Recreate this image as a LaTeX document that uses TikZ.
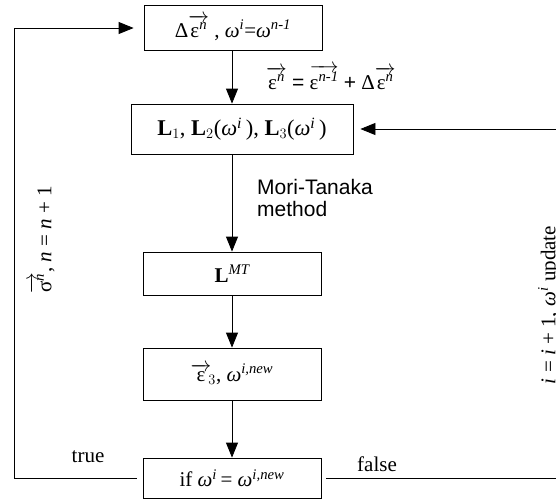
\documentclass[tikz,border=0pt]{standalone}
\usepackage{amsmath}
\usepackage{fontspec}
\setmainfont{Liberation Serif}
\newfontfamily\arialf{Liberation Sans}
\usetikzlibrary{arrows.meta}
\newcommand\myom{\textit{ω}}
\newcommand\myvec[1]{\ensuremath{\overrightarrow{\text{#1}}}}
\newcommand\mysup[1]{\textsuperscript{\itshape #1}}
\begin{document}
\begin{tikzpicture}[x=1pt,y=-1pt,
  box/.style={draw, line width=0.8pt, inner sep=0pt, font=\fontsize{21}{24}\selectfont},
  arr/.style={-{Triangle[length=15pt,width=12pt]}, line width=0.8pt},
  lab/.style={inner sep=0pt, font=\fontsize{21}{24}\selectfont}]
\useasboundingbox (0,0) rectangle (556,501);
\node[box, minimum width=178pt, minimum height=45pt] (b1) at (233,28)
  {Δ\myvec{ε\mysup{n}} , \myom\mysup{i}=\myom\mysup{n-1}};
\node[box, minimum width=222pt, minimum height=50pt, font=\fontsize{22.5}{25}\selectfont] (b2) at (242,129)
  {\textbf{L}$_1$, \textbf{L}$_2$(\myom\mysup{i}\,), \textbf{L}$_3$(\myom\mysup{i}\,)};
\node[box, minimum width=178pt, minimum height=43pt] (b3) at (232,273.5)
  {\textbf{L}\mysup{MT}};
\node[box, minimum width=178pt, minimum height=52pt] (b4) at (232,374)
  {\myvec{ε}\kern-3pt$_3$, \myom\mysup{i,new}};
\node[box, minimum width=178pt, minimum height=40pt] (b5) at (232,478)
  {if \myom\mysup{i}\,= \myom\mysup{i,new}};
% labels
\node[lab, anchor=west] (eq) at (266,77)
  {\myvec{ε\mysup{n}} {\arialf =} \myvec{ε\mysup{n-1}} {\arialf +} Δ\myvec{ε\mysup{n}}};
\node[lab, anchor=north west, align=left, font=\arialf\fontsize{21}{22}\selectfont] (mt) at (257,179)
  {Mori-Tanaka\\method};
\node[lab] (tr) at (88,457) {true};
\node[lab] (fa) at (377,464) {false};
\node[lab, rotate=90] (ls) at (42,240) {\myvec{σ\mysup{n}}, \textit{n} = \textit{n} + 1};
\node[lab, rotate=90] (rs) at (549,305) {\textit{i} = \textit{i} + 1, \myom\mysup{i} update};
% connectors
\coordinate (lc) at (14,0);
\coordinate (rc) at (558,0);
\draw[arr] (b1.south -| b3.north) -- (b3.north |- b2.north);
\draw[arr] (b3.north |- b2.south) -- (b3.north);
\draw[arr] (b3.south) -- (b4.north);
\draw[arr] (b4.south) -- (b5.north);
\draw[arr] ([xshift=-6pt]b5.west) -- (lc |- b5.west) -- (lc |- b1.west) -- ([xshift=-10pt]b1.west);
\draw[arr] ([xshift=5pt]b5.east) -- (rc |- b5.east) -- (rc |- b2.east) -- ([xshift=7pt]b2.east);
\end{tikzpicture}
\end{document}
